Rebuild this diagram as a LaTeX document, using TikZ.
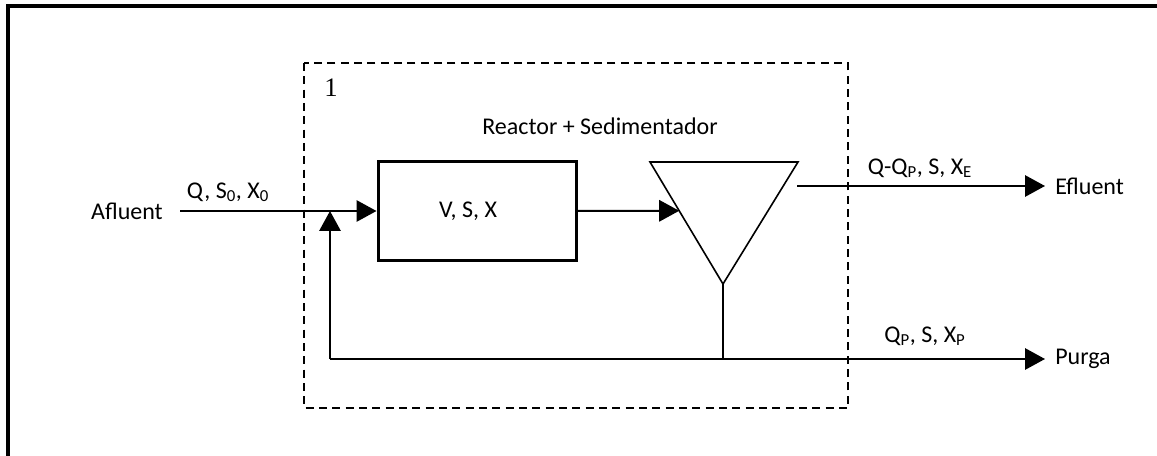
\documentclass[tikz,border=0pt]{standalone}
\usepackage{fontspec}
\setmainfont{Carlito}
\newfontfamily\numfont{Liberation Serif}
\usetikzlibrary{arrows.meta,calc}

\begin{document}
\begin{tikzpicture}[x=0.75pt, y=-0.75pt,
        font=\fontsize{18}{21}\selectfont,
        flow/.style={line width=1.5pt},
        arr/.style={flow, -{Triangle[length=15pt,width=16pt]}},
        lbl/.style={inner sep=0pt}]
        \useasboundingbox (0,0) rectangle (1157,456);
        \draw[line width=3pt] (8,470) -- (8,6.5) -- (1170,6.5);
        \draw[flow, dash pattern=on 6pt off 4pt] (304,63) rectangle (848,408);
        \draw (331,88) node[lbl, font=\numfont\fontsize{20}{24}\selectfont](one) {1};
        \draw (600,126) node[lbl](title) {Reactor + Sedimentador};
        \draw (477,211) node[draw, line width=2.25pt, minimum width=148.5pt, minimum height=73.5pt](reactor) {V, S, X\hspace*{13.5pt}};
        % sedimentador
        \coordinate (s1) at (650,162);
        \coordinate (s2) at (798,162);
        \coordinate (s3) at (723,284);
        \draw[line width=1.2pt] (s1) -- (s2) -- (s3) -- cycle;
        \coordinate (sin) at ($(s1)!0.4!(s3)$);
        \coordinate (efout) at (797,186);
        \coordinate (tee) at (723,359);
        \coordinate (ret) at (330,359);
        \coordinate (mix) at (330,211);
        % corrents
        \draw (180,211) node[anchor=east, inner xsep=12.75pt, inner ysep=0pt](afluent) {Afluent};
        \draw (1045,186) node[anchor=west, inner xsep=7.5pt, inner ysep=0pt](efluent) {Efluent};
        \draw (1045,359) node[anchor=west, inner xsep=7.5pt, inner ysep=0pt](purga) {Purga};
        \draw (228,192) node[lbl](qin) {Q, S\textsubscript{0}, X\textsubscript{0}};
        \draw (920,168) node[lbl](qout) {Q-Q\textsubscript{P}, S, X\textsubscript{E}};
        \draw (925,336) node[lbl](qpur) {Q\textsubscript{P}, S, X\textsubscript{P}};
        \draw[arr] (afluent) -- (reactor);
        \draw[arr] (reactor) -- (sin);
        \draw[arr] (efout) -- (efluent);
        \draw[flow] (s3) -- (tee);
        \draw[arr] (ret) -- (purga);
        \draw[arr] (ret) -- (mix);
\end{tikzpicture}
\end{document}
